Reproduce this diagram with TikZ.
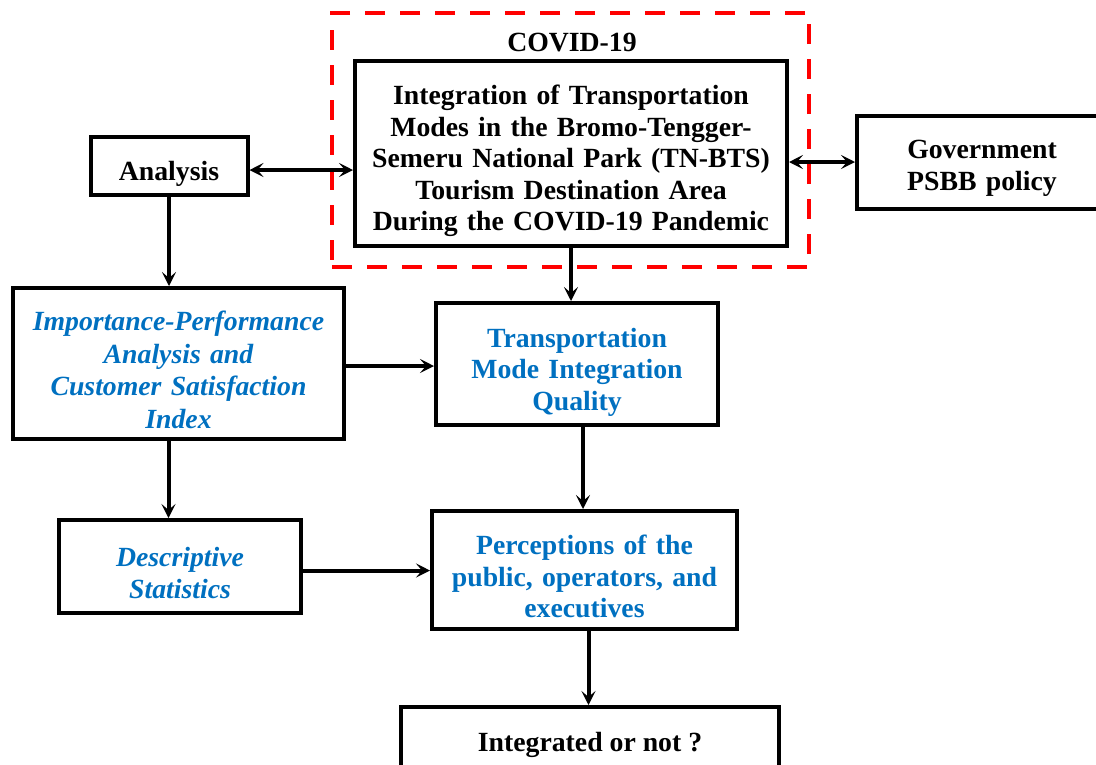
\documentclass[tikz,border=0pt]{standalone}
\usepackage{fontspec}
\setmainfont{Liberation Serif}
\usetikzlibrary{arrows.meta,calc}
\definecolor{wordblue}{RGB}{0,112,192}
\definecolor{dashred}{RGB}{255,0,0}
\newcommand{\topstrut}{\rule{0pt}{35pt}}
\newcommand{\botstrut}{\rule[-3pt]{0pt}{3pt}}
\begin{document}
\begin{tikzpicture}[x=1pt,y=-1pt,
  box/.style={draw=black,line width=4pt,rectangle,inner sep=0pt,align=center,
    font=\fontsize{27.75}{31.5}\selectfont\bfseries},
  bluebox/.style={box,text=wordblue},
  conn/.style={line width=4pt,-{Stealth[length=14pt,width=14pt,inset=6pt]}},
  conn2/.style={line width=4pt,{Stealth[length=14pt,width=14pt,inset=6pt]}-{Stealth[length=14pt,width=14pt,inset=6pt]}}]
\useasboundingbox (0,0) rectangle (1096,764);
\clip (0,0) rectangle (1096,764);
% red dashed frame
\node[draw=dashred,line width=4pt,dash pattern=on 20pt off 15pt,minimum width=477pt,minimum height=254pt,inner sep=0pt] (frame) at (570.5,140) {};
\node[font=\fontsize{27.75}{30}\selectfont\bfseries] (covid) at (572,43) {COVID-19};
\node[box,minimum width=432pt,minimum height=185pt,text width=425pt] (main) at (571,153.5)
  {\topstrut Integration of Transportation\\ Modes in the Bromo-Tengger-\\ Semeru National Park (TN-BTS)\\ Tourism Destination Area\\ During the COVID-19 Pandemic\botstrut};
\node[box,minimum width=157pt,minimum height=58pt] (analysis) at (169,165.5) {\topstrut Analysis\botstrut};
\node[box,minimum width=250pt,minimum height=93pt,text width=240pt] (gov) at (982,162) {\rule{0pt}{31pt}Government\\ PSBB policy\botstrut};
\node[bluebox,minimum width=331pt,minimum height=151pt,text width=325pt,
  font=\fontsize{27.75}{32.7}\selectfont\bfseries\itshape] (ipa) at (178.5,363.5)
  {\topstrut Importance-Performance\\ Analysis and\\ Customer Satisfaction\\ Index\botstrut};
\node[bluebox,minimum width=282pt,minimum height=122pt,text width=275pt] (trans) at (577,364)
  {\topstrut Transportation\\ Mode Integration\\ Quality\botstrut};
\node[bluebox,minimum width=242pt,minimum height=93pt,text width=235pt,
  font=\fontsize{27.75}{32}\selectfont\bfseries\itshape] (desc) at (180,566.5)
  {\topstrut Descriptive\\ Statistics\botstrut};
\node[bluebox,minimum width=305pt,minimum height=118pt,text width=300pt] (perc) at (584.5,570)
  {\topstrut Perceptions of the\\ public, operators, and\\ executives\botstrut};
\node[box,minimum width=378pt,minimum height=60pt] (integ) at (590,737) {\topstrut Integrated or not ?\botstrut};
% connectors
\coordinate (a1) at ($(analysis.east)+(0,4.5)$);
\draw[conn2] (a1) -- (a1 -| main.west);
\draw[conn2] (gov.west) -- (gov.west -| main.east);
\draw[conn] (analysis.south) -- (analysis.south |- ipa.north);
\draw[conn] (main.south) -- (main.south |- trans.north);
\coordinate (i1) at ($(ipa.east)+(0,2.5)$);
\draw[conn] (i1) -- (i1 -| trans.west);
\coordinate (t1) at ($(trans.south)+(6,0)$);
\draw[conn] (t1) -- (t1 |- perc.north);
\coordinate (i2) at ($(ipa.south)+(-10,0)$);
\draw[conn] (i2) -- (i2 |- desc.north);
\coordinate (d1) at ($(desc.east)+(0,4)$);
\draw[conn] (d1) -- (d1 -| perc.west);
\coordinate (p1) at ($(perc.south)+(4,0)$);
\draw[conn] (p1) -- (p1 |- integ.north);
\end{tikzpicture}
\end{document}
